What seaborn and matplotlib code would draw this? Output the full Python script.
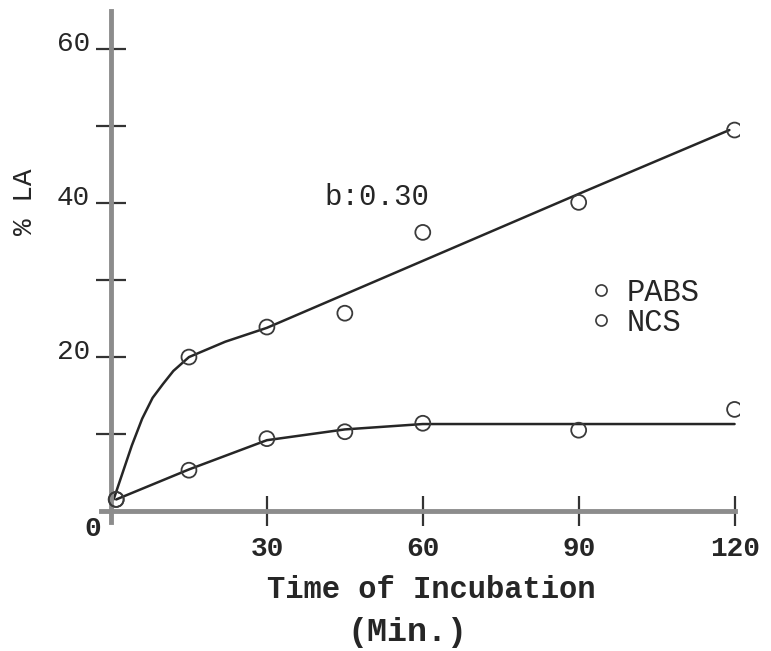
import matplotlib
matplotlib.use("Agg")
import matplotlib.pyplot as plt
import matplotlib.transforms as mtransforms
from matplotlib.lines import Line2D
import pandas as pd
import seaborn as sns

# measured points (% LA vs. incubation time)
time_min = [1, 15, 30, 45, 60, 90, 120]
pabs_pct = [1.5, 20.0, 23.9, 25.7, 36.2, 40.1, 49.5]
ncs_pct = [1.5, 5.3, 9.4, 10.3, 11.4, 10.5, 13.2]

# hand drawn curves through the points
pabs_fit_t = [0.5, 2, 4, 6, 8, 10, 12, 15, 22, 30, 60, 90, 119]
pabs_fit_v = [1.5, 4.5, 8.5, 12.0, 14.7, 16.5, 18.2, 20.0, 22.0, 23.8, 32.5, 41.2, 49.5]
ncs_fit_t = [1, 15, 30, 45, 60, 90, 120]
ncs_fit_v = [1.5, 5.4, 9.2, 10.6, 11.3, 11.3, 11.3]

x_ticks = [30, 60, 90, 120]
y_ticks = [10, 20, 30, 40, 50, 60]
y_tick_labels = ["", "20", "", "40", "", "60"]
series_names = ["PABS", "NCS"]

sns.set_theme(style="white")
plt.rcParams["font.family"] = ["Liberation Mono", "DejaVu Sans"]

ink = "#262626"
axis_grey = "#8c8c8c"

points = pd.DataFrame({
    "t": time_min * 2,
    "v": pabs_pct + ncs_pct,
    "series": [series_names[0]] * len(time_min) + [series_names[1]] * len(time_min),
})
fits = pd.DataFrame({
    "t": pabs_fit_t + ncs_fit_t,
    "v": pabs_fit_v + ncs_fit_v,
    "series": [series_names[0]] * len(pabs_fit_t) + [series_names[1]] * len(ncs_fit_t),
})

fig = plt.figure(figsize=(7.71, 6.51), dpi=100)
ax = fig.add_axes([0.1305, 0.1985, 0.829, 0.785])

sns.lineplot(data=fits, x="t", y="v", units="series", estimator=None,
             color=ink, linewidth=1.8, sort=False, ax=ax, legend=False)
sns.scatterplot(data=points, x="t", y="v", s=115, facecolors="none",
                edgecolor="#3a3a3a", linewidth=1.3, ax=ax, legend=False, zorder=5)

ax.set_xlim(-2, 121)
ax.set_ylim(-1.4, 65)

for side in ["top", "right"]:
    ax.spines[side].set_visible(False)
ax.spines["left"].set_position(("data", 0))
ax.spines["bottom"].set_position(("data", 0))
ax.spines["bottom"].set_bounds(-2, 120)
for side in ["left", "bottom"]:
    ax.spines[side].set_color(axis_grey)
    ax.spines[side].set_linewidth(3.5)

ax.set_xticks(x_ticks)
ax.set_xticklabels([str(t) for t in x_ticks], fontsize=20, fontweight="bold", color=ink)
ax.set_yticks(y_ticks)
ax.set_yticklabels(y_tick_labels, fontsize=20, color=ink)
ax.tick_params(axis="both", bottom=True, left=True, direction="inout",
               length=22, width=1.6, color="#333333")
ax.tick_params(axis="x", pad=7)
ax.tick_params(axis="y", pad=4)
# y labels sit a little above their ticks in the original
lift = mtransforms.ScaledTranslation(0, 6 / 72, fig.dpi_scale_trans)
for lab in ax.get_yticklabels():
    lab.set_transform(lab.get_transform() + lift)

ax.set_xlabel("")
ax.set_ylabel("")

ax.text(-3.5, -2.3, "0", ha="center", va="center", fontsize=20,
        fontweight="bold", color=ink)
ax.text(41, 40.8, "b:0.30", ha="left", va="center", fontsize=21, color=ink)

fig.text(0.032, 0.69, "% LA", rotation=90, ha="center", va="center",
         fontsize=20, color=ink)
fig.text(0.559, 0.094, "Time of Incubation", ha="center", va="center",
         fontsize=22, fontweight="bold", color=ink)
fig.text(0.529, 0.028, "(Min.)", ha="center", va="center",
         fontsize=24, fontweight="bold", color=ink)

handles = [Line2D([], [], linestyle="none", marker="o", markersize=8,
                  markerfacecolor="none", markeredgecolor="#3a3a3a",
                  markeredgewidth=1.2) for _ in series_names]
ax.legend(handles, series_names, loc="upper left", bbox_to_anchor=(0.763, 0.478),
          frameon=False, handlelength=0.8, handletextpad=0.45, labelspacing=0.0,
          borderpad=0, borderaxespad=0, prop={"family": "Liberation Mono", "size": 22},
          labelcolor=ink)

fig.savefig("out.png", dpi=100, facecolor="white")
